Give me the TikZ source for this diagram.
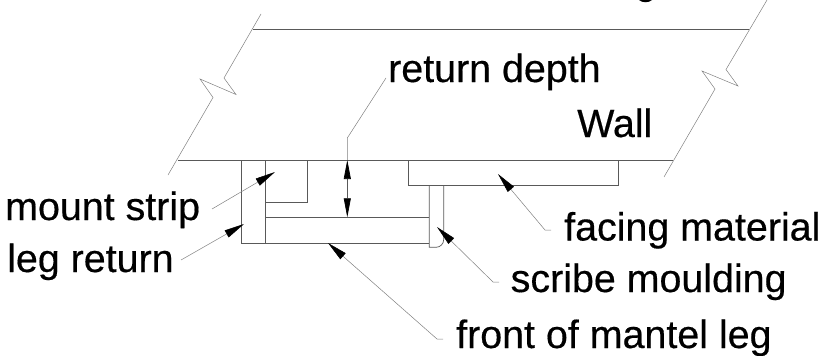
\documentclass[tikz,border=0pt]{standalone}
\usepackage{fontspec}
\setmainfont[FakeBold=0.4]{Liberation Sans}
\usetikzlibrary{positioning, arrows.meta}
\tikzset{
    wallline/.style={draw=black!65, line width=0.7pt},
    leaderline/.style={draw=black!50, line width=0.5pt},
    pointer/.style={leaderline, {Triangle[length=20pt,width=8pt,black]}-},
    labeltext/.style={inner sep=0pt, anchor=base west, font=\fontsize{39.4}{41}\selectfont},
}
\begin{document}
\begin{tikzpicture}[x=1pt, y=-1pt]
    \useasboundingbox (0,0) rectangle (822,356);

    % wall with its two break lines
    \draw[leaderline] (261,14) -- (224,78) -- (236,94.5) -- (200,79) -- (213,97.5) -- (168,175);
    \draw[leaderline] (767,0) -- (726,69.5) -- (738,86) -- (702,71) -- (715,89) -- (664,177);
    \draw[wallline] (253,29.3) -- (749,29.3); % top of the wall
    \draw[wallline] (178,160) -- (673,160); % face of the wall

    % leg return, mount strip and front of leg
    \draw[wallline] (241,160) -- (241,243.3) -- (429.3,243.3);
    \draw[wallline] (265.7,160) -- (265.7,243.3);
    \draw[wallline] (307.7,160) -- (307.7,202.3) -- (265.7,202.3);
    \draw[wallline] (265.7,217.3) -- (429.3,217.3);

    % facing material and scribe moulding
    \draw[wallline] (408.3,160) -- (408.3,185) -- (618.3,185) -- (618.3,160);
    \draw[wallline] (429.3,185) -- (429.3,247.3) -- (436,247.3) arc[start angle=-90, end angle=0, radius=7.7pt] -- (443.7,185);

    % cropped mark at the top edge
    \fill (639,0) .. controls (642,3) and (649,3) .. (652,0) -- cycle;

    % labels
    \node[labeltext] (depthlabel) at (388,82) {return depth};
    \node[labeltext] (walllabel) at (577,137) {Wall};
    \node[labeltext] (striplabel) at (5,220) {mount strip};
    \node[labeltext] (returnlabel) at (7,272) {leg return};
    \node[labeltext] (facinglabel) at (564,240.5) {facing material};
    \node[labeltext] (scribelabel) at (510.5,292) {scribe moulding};
    \node[labeltext] (frontlabel) at (456,348) {front of mantel leg};

    % return depth dimension
    \coordinate (depthtop) at (347.3,160);
    \coordinate (depthbot) at (347.3,217.3);
    \draw[wallline, {Triangle[length=19pt,width=7pt,black]}-{Triangle[length=19pt,width=7pt,black]}] (depthtop) -- (depthbot);
    \draw[leaderline] (386,78) -- (347.3,138) -- (depthtop);

    % leaders with arrows
    \draw[pointer] (275,172) -- (212,209);
    \draw[pointer] (244,224) -- (181,260);
    \draw[pointer] (498,174) -- (545,230) -- (551,230);
    \draw[pointer] (437,227) -- (493,282) -- (499,282);
    \draw[pointer] (328,243) -- (437,339) -- (443,339);
\end{tikzpicture}
\end{document}
